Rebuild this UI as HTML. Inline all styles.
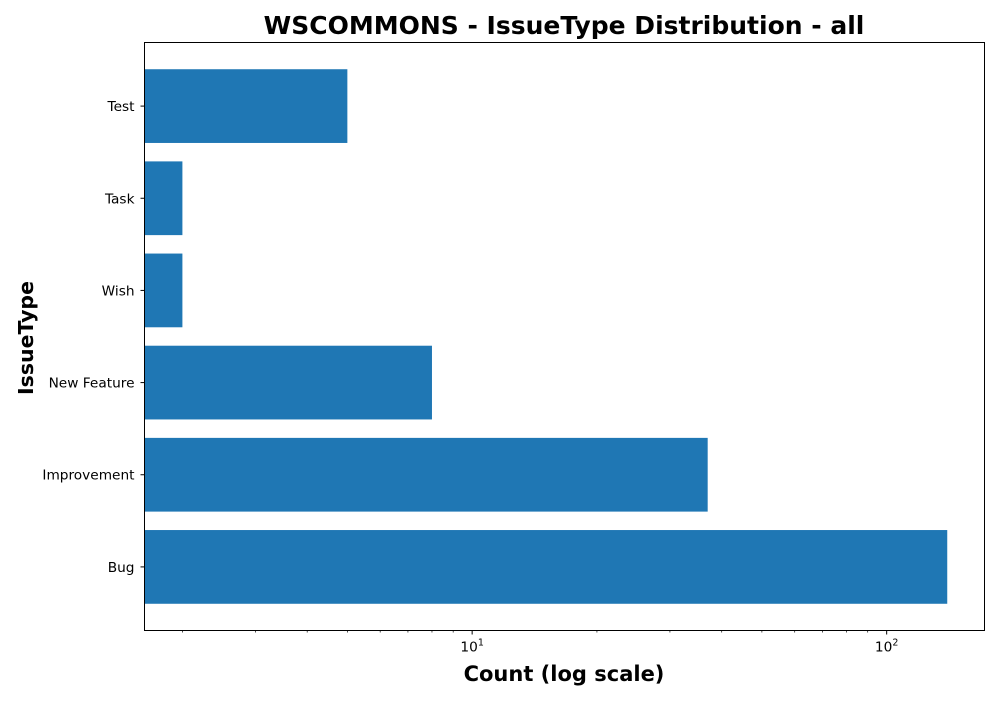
<!DOCTYPE html>
<html><head><meta charset="utf-8"><style>
body{margin:0;background:#fff;font-family:"DejaVu Sans","Liberation Sans",sans-serif;}
</style></head><body>
<svg width="1000" height="700" xmlns="http://www.w3.org/2000/svg" font-family="DejaVu Sans, Liberation Sans, sans-serif">
<text x="564" y="34" text-anchor="middle" font-size="25" font-weight="bold">WSCOMMONS - IssueType Distribution - all</text>
<g id="bars"></g>
<g id="axes"></g>
<rect x="144.5" y="42.5" width="840" height="588" fill="none" stroke="#000" stroke-width="1"/>
<text x="564" y="681" text-anchor="middle" font-size="21" font-weight="bold">Count (log scale)</text>
<text transform="translate(33,338) rotate(-90)" text-anchor="middle" font-size="20.5" font-weight="bold">IssueType</text>
</svg>
<script>
const categories=["Bug","Improvement","New Feature","Wish","Task","Test"];
const counts=[140,37,8,2,2,5];
const xMinLog=0.2096, xMaxLog=2.236;
const L=144.5,R=984.5,T=42.5,B=630.5;
const ns="http://www.w3.org/2000/svg";
function xs(v){return L+(Math.log10(v)-xMinLog)/(xMaxLog-xMinLog)*(R-L);}
const n=categories.length;
const yMin=-0.4-0.05*(n-0.2), yMax=n-1+0.4+0.05*(n-0.2);
function ys(i){return B-(i-yMin)/(yMax-yMin)*(B-T);}
const unit=(B-T)/(yMax-yMin);
const bars=document.getElementById('bars'),axes=document.getElementById('axes');
categories.forEach((c,i)=>{
 const r=document.createElementNS(ns,'rect');
 r.setAttribute('x',L);r.setAttribute('width',xs(counts[i])-L);
 r.setAttribute('y',ys(i)-0.4*unit);r.setAttribute('height',0.8*unit);
 r.setAttribute('fill','#1f77b4');
 
 
 bars.appendChild(r);
 const tk=document.createElementNS(ns,'line');
 tk.setAttribute('x1',L-4);tk.setAttribute('x2',L);tk.setAttribute('y1',ys(i));tk.setAttribute('y2',ys(i));tk.setAttribute('stroke','#000');
 axes.appendChild(tk);
 const t=document.createElementNS(ns,'text');
 t.setAttribute('x',L-10);t.setAttribute('y',ys(i)+5);t.setAttribute('text-anchor','end');t.setAttribute('font-size','13.7');
 t.textContent=c;
 
 
 axes.appendChild(t);
});
for(let d=0;d<=2;d++){for(let m=1;m<=9;m++){
 const v=m*Math.pow(10,d);const lv=Math.log10(v);
 if(lv<xMinLog||lv>xMaxLog)continue;
 const x=xs(v);const major=m===1;
 const l=document.createElementNS(ns,'line');
 l.setAttribute('x1',x);l.setAttribute('x2',x);l.setAttribute('y1',B);l.setAttribute('y2',B+(major?4:2));l.setAttribute('stroke','#000');l.setAttribute('stroke-width',major?1:0.7);
 axes.appendChild(l);
 if(major){const t=document.createElementNS(ns,'text');
  t.setAttribute('x',x);t.setAttribute('y',B+21);t.setAttribute('text-anchor','middle');t.setAttribute('font-size','13.7');
  t.innerHTML='10<tspan dy="-6" font-size="9.5">'+d+'</tspan>';
  
  
  axes.appendChild(t);}
}}
</script>
</body></html>
